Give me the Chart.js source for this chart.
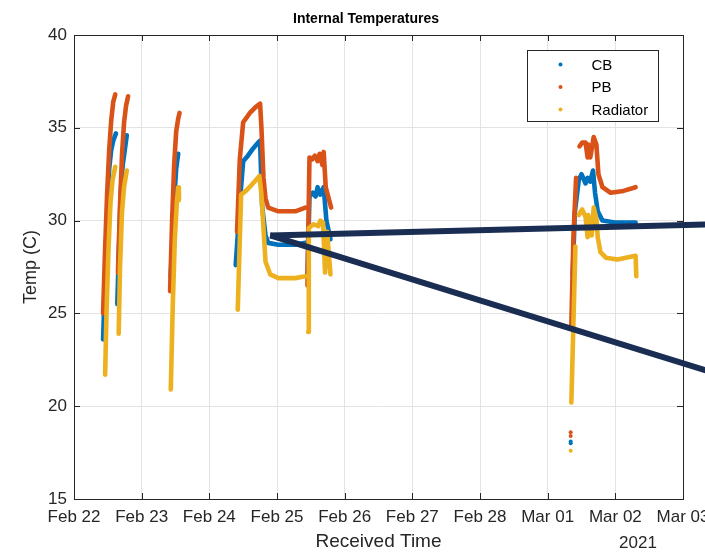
<!DOCTYPE html>
<html>
<head>
<meta charset="utf-8">
<script src="https://cdn.jsdelivr.net/npm/chart.js@4/dist/chart.umd.min.js"></script>
<style>
  html, body { margin: 0; padding: 0; background: #fff; }
  #wrap { width: 705px; height: 553px; }
</style>
</head>
<body>
<div id="wrap"><canvas id="chart" width="705" height="553"></canvas></div>
<script>
// ── Data (x = days since Feb 22 2021 00:00, y = deg C; null = gap) ─────────

const dayLabels = ['Feb 22', 'Feb 23', 'Feb 24', 'Feb 25', 'Feb 26', 'Feb 27', 'Feb 28', 'Mar 01', 'Mar 02', 'Mar 03'];
const yTicks    = [15, 20, 25, 30, 35, 40];

const cbTime = [0.43, 0.46, 0.49, 0.52, 0.55, 0.58, 0.62, null,
                0.64, 0.66, 0.69, 0.72, 0.75, 0.78, null,
                1.43, 1.47, 1.51, 1.54, null,
                2.39, 2.46, 2.50, 2.57, 2.65, 2.72, 2.75, 2.78, 2.83, 2.87, 3.02, 3.27, 3.42, null,
                3.45, 3.48, 3.53, 3.57, 3.60, 3.64, 3.69, 3.73, 3.79, null,
                7.37, 7.40, 7.46, 7.50, 7.56, 7.59, 7.63, 7.67, 7.70, 7.74, 7.81, 7.99, 8.30];
const cbTemp = [23.6, 27.0, 30.5, 32.8, 33.8, 34.3, 34.7, null,
                25.5, 28.0, 31.5, 33.0, 33.8, 34.6, null,
                27.0, 30.5, 32.8, 33.6, null,
                27.6, 31.4, 33.2, 33.5, 33.9, 34.2, 34.3, 30.8, 29.2, 28.8, 28.7, 28.7, 28.8, null,
                27.0, 31.3, 31.5, 31.3, 31.8, 31.4, 31.8, 30.0, 29.0, null,
                27.0, 30.4, 32.2, 32.5, 32.0, 32.3, 32.1, 32.7, 31.5, 30.5, 30.0, 29.9, 29.9];

const pbTime = [0.43, 0.46, 0.49, 0.52, 0.55, 0.58, 0.61, null,
                0.65, 0.68, 0.71, 0.74, 0.77, 0.80, null,
                1.42, 1.45, 1.48, 1.51, 1.54, 1.56, null,
                2.41, 2.45, 2.50, 2.54, 2.60, 2.68, 2.75, 2.77, 2.80, 2.83, 2.87, 3.02, 3.27, 3.42, null,
                3.45, 3.48, 3.52, 3.56, 3.60, 3.63, 3.67, 3.69, 3.72, 3.80, null,
                7.35, 7.38, 7.42, null,
                7.47, 7.51, 7.56, 7.59, 7.60, 7.63, 7.68, 7.72, 7.75, 7.81, 7.93, 8.12, 8.30];
const pbTemp = [25.0, 28.5, 31.5, 33.8, 35.4, 36.4, 36.8, null,
                27.2, 30.8, 33.6, 35.3, 36.2, 36.7, null,
                26.2, 30.0, 33.0, 34.8, 35.5, 35.8, null,
                29.4, 33.3, 35.3, 35.5, 35.8, 36.1, 36.3, 35.0, 32.3, 31.2, 30.7, 30.5, 30.5, 30.7, null,
                26.5, 33.4, 33.3, 33.5, 33.2, 33.6, 33.0, 33.7, 31.8, 30.7, null,
                24.4, 29.0, 32.3, null,
                34.0, 34.2, 34.2, 33.4, 34.1, 33.4, 34.5, 34.1, 32.5, 31.8, 31.5, 31.6, 31.8];

const radTime = [0.46, 0.48, 0.51, 0.54, 0.57, 0.61, null,
                 0.66, 0.68, 0.71, 0.74, 0.78, null,
                 1.43, 1.46, 1.49, 1.52, 1.54, 1.55, null,
                 2.42, 2.47, 2.54, 2.62, 2.74, 2.77, 2.80, 2.83, 2.90, 3.02, 3.27, 3.42, null,
                 3.46, 3.47, 3.54, 3.61, 3.64, 3.68, 3.71, 3.74, 3.79, null,
                 7.35, 7.41, null,
                 7.46, 7.51, 7.56, 7.59, 7.60, 7.65, 7.68, 7.72, 7.74, 7.78, 7.86, 8.03, 8.30, 8.31];
const radTemp = [21.7, 25.0, 28.5, 31.0, 32.2, 32.9, null,
                 23.9, 27.5, 30.5, 31.8, 32.7, null,
                 20.9, 25.5, 29.0, 31.0, 31.8, 31.1, null,
                 25.2, 31.4, 31.6, 31.9, 32.4, 31.4, 29.6, 27.8, 27.1, 26.9, 26.9, 27.0, null,
                 24.0, 29.6, 29.8, 29.7, 30.0, 29.9, 27.2, 29.4, 27.1, null,
                 20.2, 28.6, null,
                 30.3, 30.6, 30.2, 29.1, 30.3, 29.2, 30.7, 30.1, 29.1, 28.3, 28.0, 27.9, 28.1, 27.0];

// stray single readings on Mar 01
const strayTime = 7.34;
const cbStray   = [18.1, 18.0];
const pbStray   = [18.6, 18.4];
const radStray  = [17.6];

// the two dark callout strokes laid over the figure
const calloutX     = [2.90, 9.45];
const calloutUpper = [29.2, 29.8];
const calloutLower = [29.2, 21.8];

// ── Helpers ───────────────────────────────────────────────────────────────

const FONT  = '"Liberation Sans", Arial, Helvetica, sans-serif';
const INK   = '#262626';
const C_CB  = '#0072BD';
const C_PB  = '#D95319';
const C_RAD = '#EDB120';
const NAVY  = '#1a2d52';

function toPoints(xs, ys) {
  let lastX = 0;
  return xs.map((x, i) => {
    if (x === null || ys[i] === null) return { x: lastX, y: null };
    lastX = x;
    return { x, y: ys[i] };
  });
}

function seriesDataset(label, xs, ys, color, order) {
  return {
    label, order,
    data: toPoints(xs, ys),
    borderColor: color,
    backgroundColor: color,
    borderWidth: 4.6,
    borderCapStyle: 'round',
    borderJoinStyle: 'round',
    pointRadius: 0,
    spanGaps: false,
    tension: 0,
  };
}

function strayDataset(vals, color, order) {
  return {
    label: '_stray', order,
    data: vals.map(v => ({ x: strayTime, y: v })),
    showLine: false,
    pointRadius: 2,
    pointBorderWidth: 0,
    pointBackgroundColor: color,
    borderColor: color,
  };
}

function calloutDataset(ys) {
  return {
    label: '_callout', order: 0,
    data: toPoints(calloutX, ys),
    borderColor: NAVY,
    borderWidth: 6,
    borderCapStyle: 'butt',
    pointRadius: 0,
    clip: false,
  };
}

// ── Plugins: frame with inward ticks, legend box, title / year ─────────────

const framePlugin = {
  id: 'frame',
  beforeDatasetsDraw(chart) {
    const { ctx, chartArea: a, scales } = chart;
    ctx.save();
    ctx.strokeStyle = INK;
    ctx.lineWidth = 1;
    ctx.strokeRect(a.left + 0.5, a.top + 0.5, a.right - a.left, a.bottom - a.top);
    const tl = 6;
    ctx.beginPath();
    scales.x.ticks.forEach(t => {
      const px = Math.round(scales.x.getPixelForValue(t.value)) + 0.5;
      ctx.moveTo(px, a.bottom); ctx.lineTo(px, a.bottom - tl);
      ctx.moveTo(px, a.top);    ctx.lineTo(px, a.top + tl);
    });
    scales.y.ticks.forEach(t => {
      const py = Math.round(scales.y.getPixelForValue(t.value)) + 0.5;
      ctx.moveTo(a.left, py);  ctx.lineTo(a.left + tl, py);
      ctx.moveTo(a.right, py); ctx.lineTo(a.right - tl, py);
    });
    ctx.stroke();
    ctx.restore();
  },
};

const legendPlugin = {
  id: 'boxLegend',
  afterDatasetsDraw(chart) {
    const { ctx } = chart;
    const items = chart.data.datasets.filter(d => !d.label.startsWith('_'));
    const box = { x: 527.5, y: 50.5, w: 131, h: 71 };
    ctx.save();
    ctx.fillStyle = '#fff';
    ctx.fillRect(box.x, box.y, box.w, box.h);
    ctx.strokeStyle = INK;
    ctx.lineWidth = 1;
    ctx.strokeRect(box.x, box.y, box.w, box.h);
    ctx.font = `15px ${FONT}`;
    ctx.textBaseline = 'middle';
    items.forEach((d, i) => {
      const cy = box.y + 14 + i * 22.5;
      ctx.fillStyle = d.borderColor;
      ctx.beginPath();
      ctx.arc(box.x + 33, cy, 2, 0, Math.PI * 2);
      ctx.fill();
      ctx.fillStyle = '#000';
      ctx.fillText(d.label, box.x + 64, cy + 1);
    });
    ctx.restore();
  },
};

const textPlugin = {
  id: 'texts',
  afterDraw(chart) {
    const { ctx } = chart;
    ctx.save();
    ctx.fillStyle = '#000';
    ctx.textAlign = 'center';
    ctx.textBaseline = 'middle';
    ctx.font = `bold 14px ${FONT}`;
    ctx.fillText('Internal Temperatures', 366, 19);
    ctx.fillStyle = INK;
    ctx.font = `17px ${FONT}`;
    ctx.fillText('2021', 638, 543);
    ctx.restore();
  },
};

// ── Chart ─────────────────────────────────────────────────────────────────

new Chart(document.getElementById('chart').getContext('2d'), {
  type: 'line',
  data: {
    datasets: [
      seriesDataset('CB',       cbTime,  cbTemp,  C_CB,  6),
      seriesDataset('PB',       pbTime,  pbTemp,  C_PB,  5),
      seriesDataset('Radiator', radTime, radTemp, C_RAD, 4),
      strayDataset(cbStray,  C_CB,  3),
      strayDataset(pbStray,  C_PB,  3),
      strayDataset(radStray, C_RAD, 2),
      calloutDataset(calloutUpper),
      calloutDataset(calloutLower),
    ],
  },
  options: {
    responsive: false,
    animation: false,
    devicePixelRatio: 1,
    layout: { padding: { left: 0, right: 22, top: 35, bottom: 0 } },
    plugins: { legend: { display: false }, tooltip: { enabled: false }, title: { display: false } },
    scales: {
      x: {
        type: 'linear', min: 0, max: 9,
        ticks: {
          stepSize: 1, color: INK, padding: 8, maxRotation: 0, autoSkip: false,
          font: { family: FONT, size: 17 },
          callback: v => dayLabels[v] ?? '',
        },
        grid: { color: '#e3e3e3', drawTicks: false },
        border: { display: false },
        title: { display: true, text: 'Received Time', color: INK, font: { family: FONT, size: 19 }, padding: { top: 0, bottom: 0 } },
        afterFit(s) { s.height = 54; s.paddingLeft = 0; s.paddingRight = 0; },
      },
      y: {
        min: 15, max: 40,
        afterBuildTicks(s) { s.ticks = yTicks.map(v => ({ value: v })); },
        ticks: { color: INK, padding: 7, font: { family: FONT, size: 17 } },
        grid: { color: '#e3e3e3', drawTicks: false },
        border: { display: false },
        title: { display: true, text: 'Temp (C)', color: INK, font: { family: FONT, size: 18 }, padding: { top: 20, bottom: 0 } },
        afterFit(s) { s.width = 74; s.paddingTop = 0; s.paddingBottom = 0; },
      },
    },
  },
  plugins: [framePlugin, legendPlugin, textPlugin],
});
</script>
</body>
</html>
